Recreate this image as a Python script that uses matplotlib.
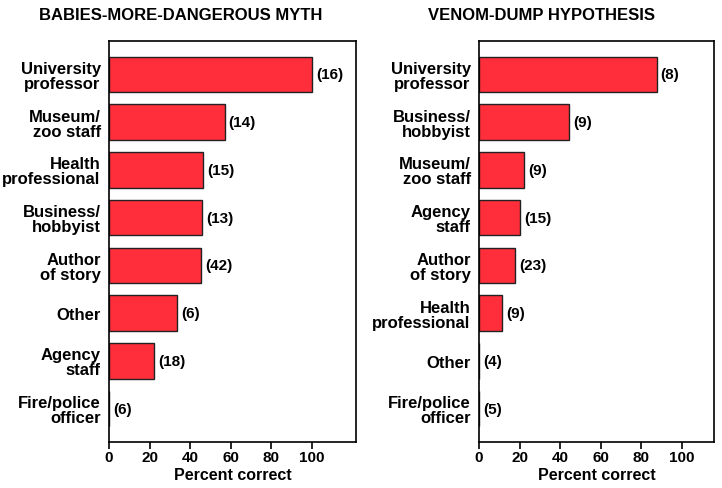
import matplotlib.pyplot as plt

plt.rcParams['font.family'] = ['Liberation Sans', 'DejaVu Sans']
plt.rcParams['font.weight'] = 'bold'

# left panel
cats1 = ['University\nprofessor', 'Museum/\nzoo staff', 'Health\nprofessional',
         'Business/\nhobbyist', 'Author\nof story', 'Other', 'Agency\nstaff',
         'Fire/police\nofficer']
vals1 = [100, 57, 46.5, 46, 45.2, 33.4, 22.2, 0]
ns1 = [16, 14, 15, 13, 42, 6, 18, 6]

# right panel
cats2 = ['University\nprofessor', 'Business/\nhobbyist', 'Museum/\nzoo staff',
         'Agency\nstaff', 'Author\nof story', 'Health\nprofessional', 'Other',
         'Fire/police\nofficer']
vals2 = [87.5, 44.5, 22.3, 20.2, 17.6, 11.3, 0, 0]
ns2 = [8, 9, 9, 15, 23, 9, 4, 5]

fig = plt.figure(figsize=(7.22, 4.89), dpi=100)
W, H = 722, 489


def panel(rect, cats, vals, ns, xmax, title, tx):
    ax = fig.add_axes([rect[0] / W, 1 - rect[3] / H,
                       (rect[2] - rect[0]) / W, (rect[3] - rect[1]) / H])
    y = list(range(len(cats)))
    ax.barh(y, vals, height=0.74, color='#FF2E3A', edgecolor='#222222',
            linewidth=1.0)
    for yi, v, n in zip(y, vals, ns):
        ax.text(v + 2, yi, '({0})'.format(n), va='center', ha='left',
                fontsize=11, fontweight='bold')
    ax.set_ylim(7.7, -0.7)
    ax.set_xlim(0, xmax)
    ax.set_yticks(y)
    ax.set_yticklabels(cats, fontsize=12, fontweight='bold', linespacing=1.0,
                       multialignment='right')
    ax.tick_params(axis='y', length=0, pad=6)
    ax.set_xticks([0, 20, 40, 60, 80, 100])
    ax.tick_params(axis='x', length=5, width=1.2, labelsize=11, pad=1)
    for lab in ax.get_xticklabels():
        lab.set_fontweight('bold')
    ax.set_xlabel('Percent correct', fontsize=11.5, fontweight='bold', labelpad=2)
    for s in ax.spines.values():
        s.set_linewidth(1.2)
    fig.text(tx, 1 - 15 / H, title, ha='center', va='center', fontsize=12,
             fontweight='bold')


panel((109, 42, 356, 443), cats1, vals1, ns1, 121.7,
      'BABIES-MORE-DANGEROUS MYTH', 0.25)
panel((479, 42, 714, 443), cats2, vals2, ns2, 115.8,
      'VENOM-DUMP HYPOTHESIS', 0.75)

plt.savefig('out.png', dpi=100)
